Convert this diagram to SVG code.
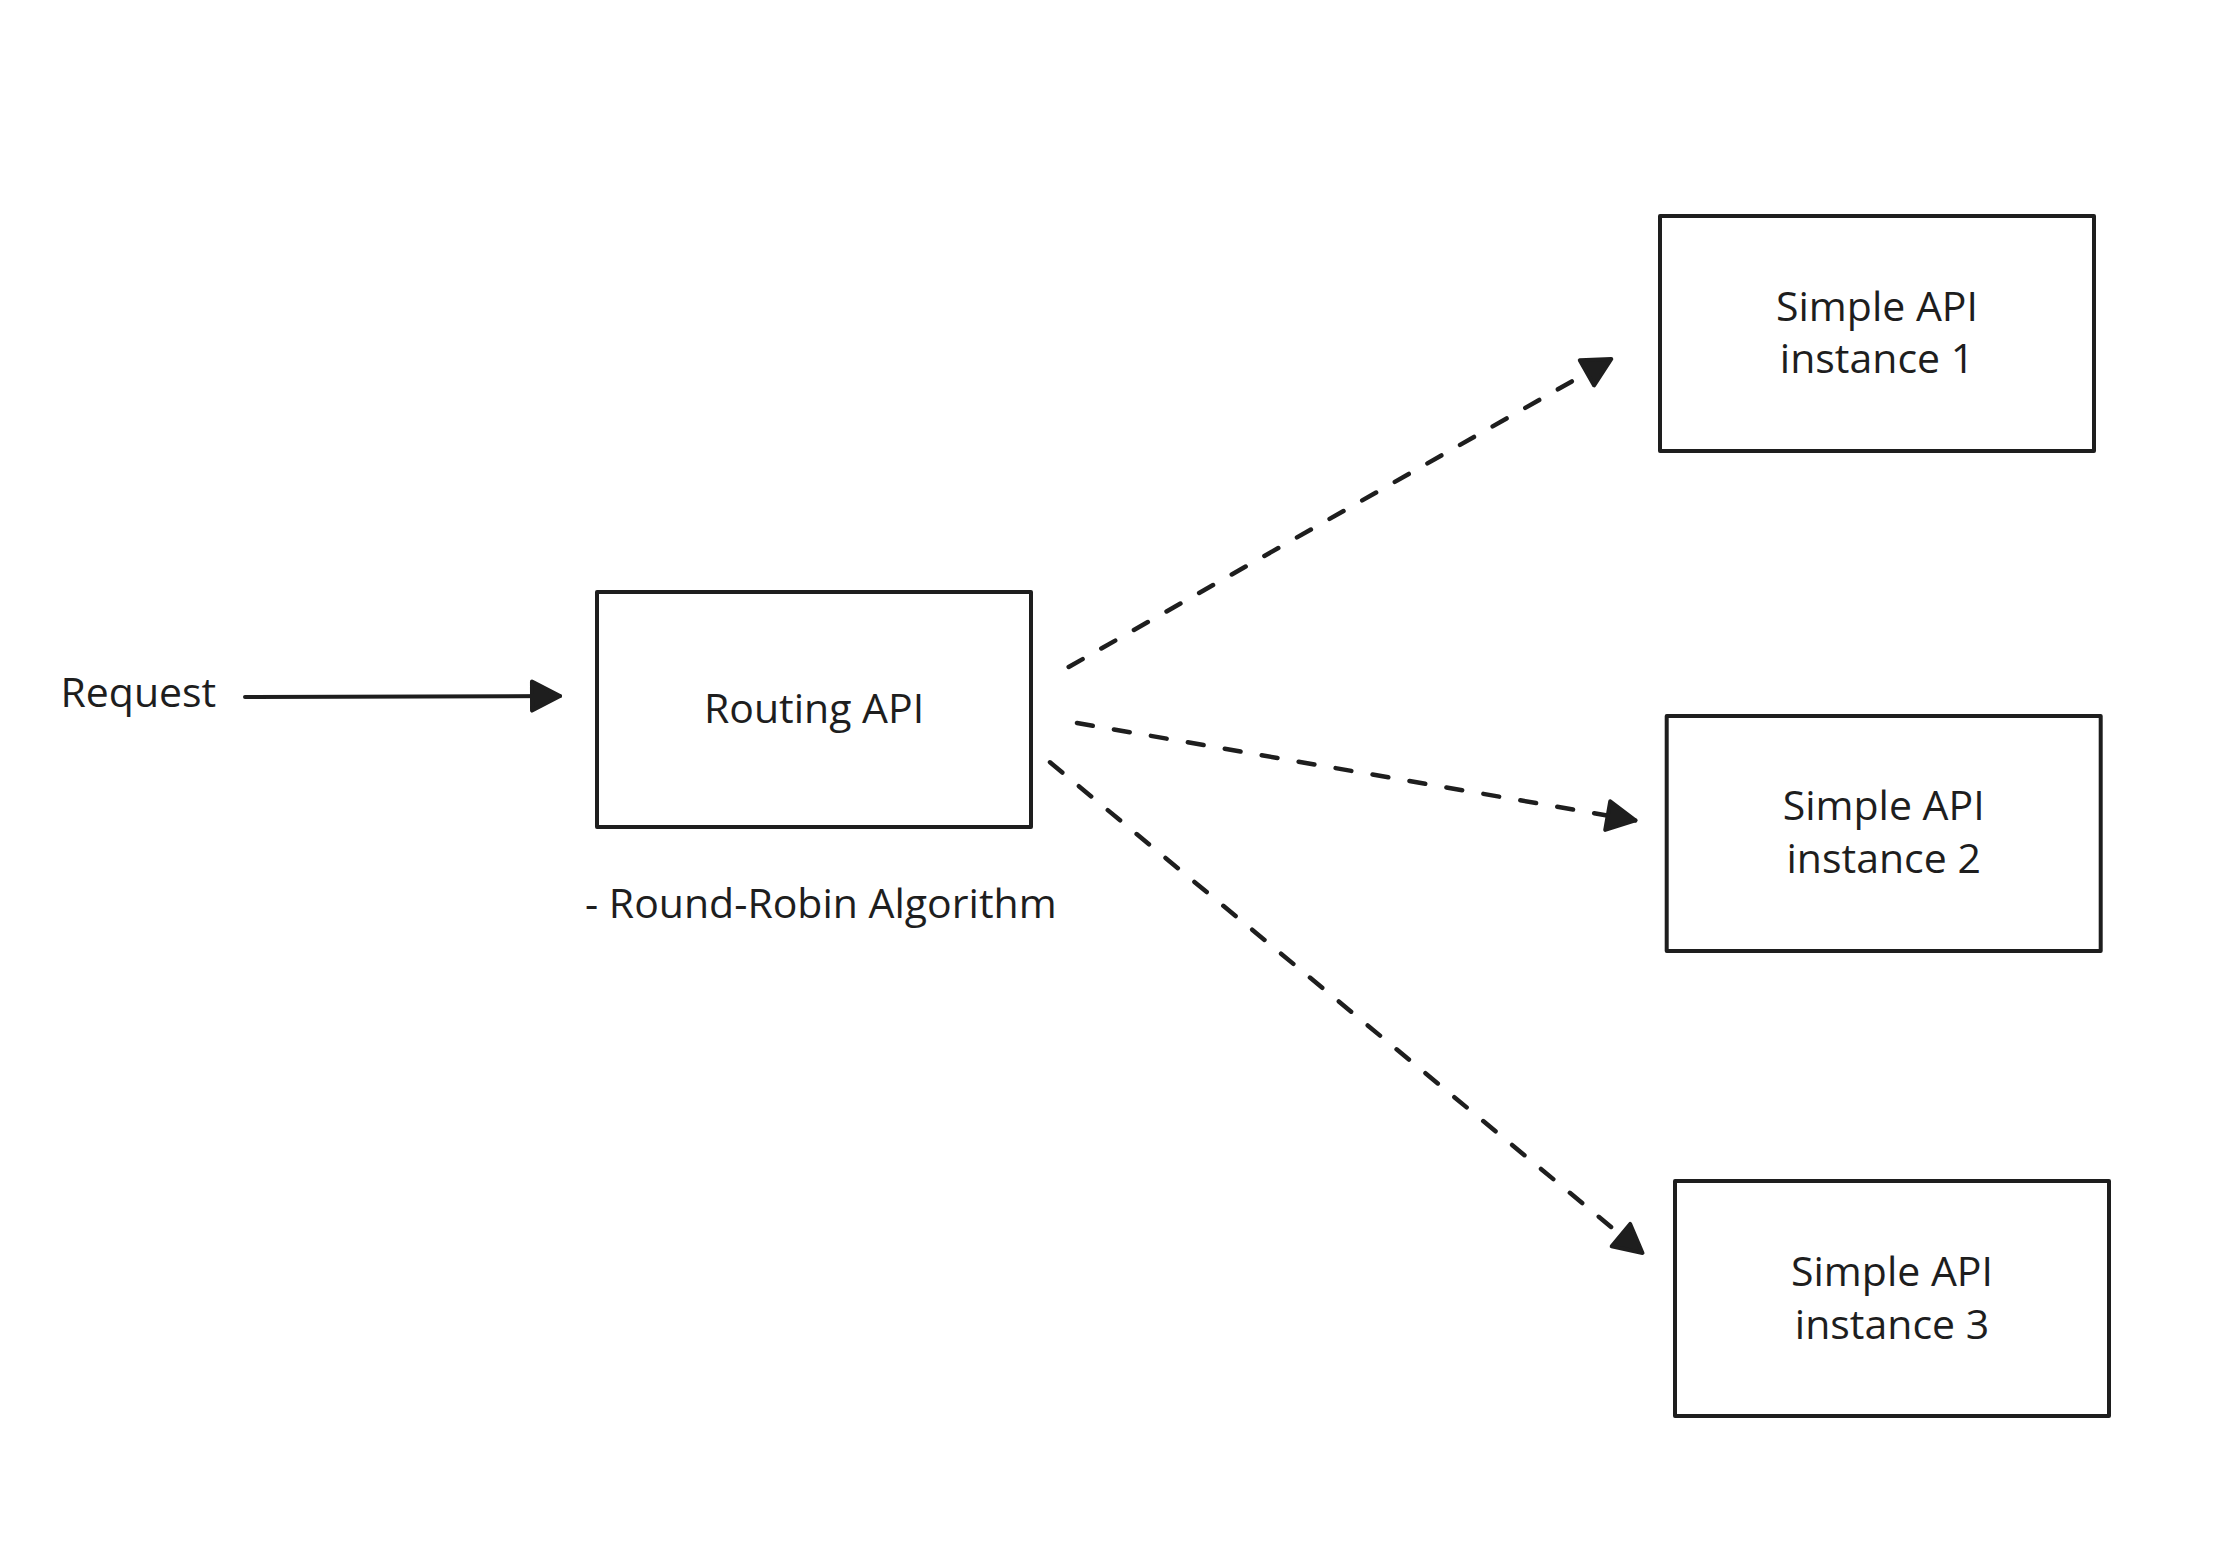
<svg xmlns="http://www.w3.org/2000/svg" width="2220" height="1564" viewBox="0 0 2220 1564">
  <style>
    .box { fill: #ffffff; stroke: #1e1e1e; stroke-width: 4; stroke-linejoin: round; }
    .lbl { font-family: "Open Sans", "Liberation Sans", sans-serif; font-size: 41px; font-weight: 500; fill: #1e1e1e; }
    .mid { text-anchor: middle; }
    .edge { fill: none; stroke: #1e1e1e; stroke-width: 4; stroke-linecap: round; }
    .dash { stroke-width: 4.5; stroke-dasharray: 16 21.5; }
  </style>
  <defs>
    <marker id="arrow" markerUnits="userSpaceOnUse" markerWidth="40" markerHeight="40" refX="28" refY="0" viewBox="-4 -20 40 40" orient="auto" overflow="visible">
      <path d="M0,-14.5 L28,0 L0,14.5 Z" fill="#1e1e1e" stroke="#1e1e1e" stroke-width="4" stroke-linejoin="round"/>
    </marker>
  </defs>
  <rect width="2220" height="1564" fill="#ffffff"/>

  <g id="connectors">
    <path class="edge" d="M245,697 L560,696" marker-end="url(#arrow)"/>
    <path class="edge dash" d="M1068.7,667 L1611.3,359" marker-end="url(#arrow)"/>
    <path class="edge dash" d="M1077,723 L1635.3,820.4" marker-end="url(#arrow)"/>
    <path class="edge dash" d="M1050,762.3 L1642.5,1253" marker-end="url(#arrow)"/>
  </g>

  <g id="request">
    <text class="lbl" x="60.5" y="707">Request</text>
  </g>

  <g id="routing-api">
    <rect class="box" x="597" y="592" width="434" height="235"/>
    <text class="lbl mid" x="814" y="722.7">Routing API</text>
  </g>

  <g id="round-robin-note">
    <text class="lbl" x="585" y="918">- Round-Robin Algorithm</text>
  </g>

  <g id="instance-1">
    <rect class="box" x="1660" y="216" width="434" height="235"/>
    <text class="lbl mid" x="1877" y="320.7">Simple API</text>
    <text class="lbl mid" x="1877" y="373.3">instance 1</text>
  </g>

  <g id="instance-2">
    <rect class="box" x="1666.7" y="716" width="434" height="235"/>
    <text class="lbl mid" x="1883.7" y="820">Simple API</text>
    <text class="lbl mid" x="1883.7" y="872.7">instance 2</text>
  </g>

  <g id="instance-3">
    <rect class="box" x="1675" y="1181" width="434" height="235"/>
    <text class="lbl mid" x="1892" y="1286">Simple API</text>
    <text class="lbl mid" x="1892" y="1339.3">instance 3</text>
  </g>
</svg>
